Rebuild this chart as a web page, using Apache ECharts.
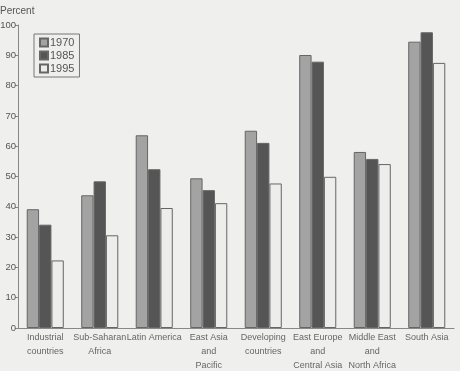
<!DOCTYPE html>
<html>
<head>
<meta charset="utf-8">
<script src="https://cdn.jsdelivr.net/npm/echarts@6/dist/echarts.min.js"></script>
<style>
  html, body { margin: 0; padding: 0; background: #efefed; }
  #chart { width: 460px; height: 371px; }
</style>
</head>
<body>
<div id="chart"></div>
<script>
const categories = [
  'Industrial\ncountries', 'Sub-Saharan\nAfrica', 'Latin America', 'East Asia\nand\nPacific',
  'Developing\ncountries', 'East Europe\nand\nCentral Asia', 'Middle East\nand\nNorth Africa', 'South Asia'
]
const yearNames = ['1970', '1985', '1995']
const v1970 = [39.2, 43.8, 63.6, 49.4, 65.1, 90.1, 58.1, 94.5]
const v1985 = [34.1, 48.4, 52.4, 45.5, 61.1, 87.9, 55.8, 97.6]
const v1995 = [22.3, 30.6, 39.6, 41.2, 47.7, 49.9, 54.1, 87.5]
const yTicks = [0, 10, 20, 30, 40, 50, 60, 70, 80, 90, 100]

const font = '"Liberation Sans Narrow", "Liberation Sans", sans-serif'
const fills = ['#a3a3a3', '#555555', '#ededeb']
const values = [v1970, v1985, v1995]

const chart = echarts.init(document.getElementById('chart'))
chart.setOption({
  animation: false,
  backgroundColor: '#efefed',
  textStyle: { fontFamily: font },
  grid: { left: 18, right: 6, top: 25, bottom: 43, containLabel: false, outerBoundsMode: 'none' },
  legend: {
    orient: 'vertical',
    left: 34,
    top: 34,
    icon: 'rect',
    itemWidth: 8,
    itemHeight: 8,
    itemGap: 2,
    padding: [3, 5, 3, 5],
    borderColor: '#777',
    borderWidth: 1,
    textStyle: { fontFamily: font, fontSize: 11, color: '#555', padding: [0, 0, 0, -3] },
    data: yearNames
  },
  xAxis: {
    type: 'category',
    data: categories,
    axisLine: { lineStyle: { color: '#888' } },
    axisTick: { show: false },
    axisLabel: { interval: 0, color: '#666', fontSize: 9, lineHeight: 14, margin: 3, fontFamily: font }
  },
  yAxis: {
    type: 'value',
    min: 0,
    max: 100,
    interval: 10,
    name: 'Percent',
    nameLocation: 'end',
    nameGap: 9,
    nameTextStyle: { color: '#555', fontSize: 10, align: 'left', padding: [0, 0, 0, -18], fontFamily: font },
    splitLine: { show: false },
    axisLine: { show: true, lineStyle: { color: '#888' } },
    axisTick: { show: true, length: 3, lineStyle: { color: '#888' } },
    axisLabel: {
      color: '#555', fontSize: 9.5, margin: 2, fontFamily: font,
      formatter: v => yTicks.includes(v) ? String(v) : ''
    }
  },
  series: yearNames.map((name, i) => ({
    name,
    type: 'bar',
    data: values[i],
    barGap: '0%',
    barCategoryGap: '32%',
    itemStyle: { color: fills[i], borderColor: '#666', borderWidth: 1 }
  }))
})
</script>
</body>
</html>
